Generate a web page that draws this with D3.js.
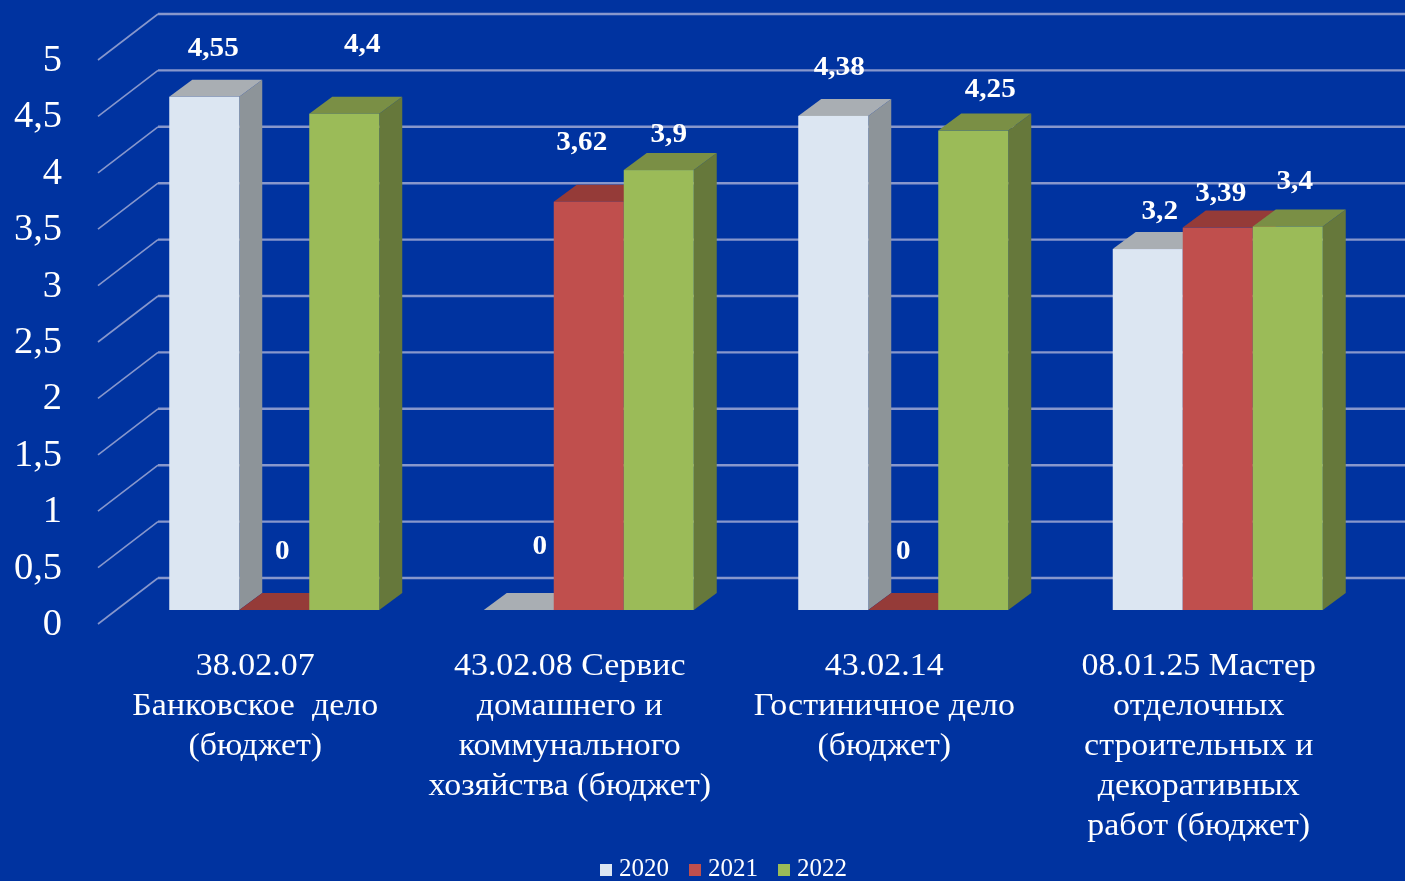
<!DOCTYPE html>
<html>
<head>
<meta charset="utf-8">
<script src="https://cdn.jsdelivr.net/npm/d3@7"></script>
<style>
html,body{margin:0;padding:0;background:#0033a0;overflow:hidden}
svg{display:block}
text{font-family:"Liberation Serif","Times New Roman",serif;fill:#fff}
</style>
</head>
<body>
<div id="chart"></div>
<script>
const categories = [
  ["38.02.07","Банковское  дело","(бюджет)"],
  ["43.02.08 Сервис","домашнего и","коммунального","хозяйства (бюджет)"],
  ["43.02.14","Гостиничное дело","(бюджет)"],
  ["08.01.25 Мастер","отделочных","строительных и","декоративных","работ (бюджет)"]
];
const seriesNames = ["2020","2021","2022"];
const values2020 = [4.55, 0, 4.38, 3.2];
const values2021 = [0, 3.62, 0, 3.39];
const values2022 = [4.4, 3.9, 4.25, 3.4];
const seriesValues = [values2020, values2021, values2022];
const valueLabels = [
  ["4,55","0","4,38","3,2"],
  ["0","3,62","0","3,39"],
  ["4,4","3,9","4,25","3,4"]
];
const yTicks = [0,0.5,1,1.5,2,2.5,3,3.5,4,4.5,5];

// layout and style
const W = 1405, H = 881;
const frontColors = ["#dce6f2","#c0504d","#9bbb59"];
const topColors   = ["#a9aeb3","#953a38","#7a8f45"];
const sideColors  = ["#8d9499","#7a2f2d","#66783a"];
const depthX = 23, depthY = 17;
const plotLeft = 98, plotRight = 1356, axisY0 = 624, backLeft = 158, backY0 = 578;
const unit = 112.8;
const labelNudge = [
  [[9,-50],[21,-65],[6,-50],[12,-39]],
  [[8,-60],[-7,-61],[0,-60],[3,-36]],
  [[18,-71],[10,-38],[17,-43],[7,-47]]
];

const svg = d3.select("#chart").append("svg").attr("width",W).attr("height",H);
svg.append("rect").attr("width",W).attr("height",H).attr("fill","#0033a0");
const defs = svg.append("defs");
defs.append("filter").attr("id","soft").attr("x","-5%").attr("y","-5%").attr("width","110%").attr("height","110%")
  .append("feGaussianBlur").attr("stdDeviation",0.6);
const root = svg.append("g").attr("filter","url(#soft)");

const x0 = d3.scaleBand().domain(d3.range(categories.length)).range([plotLeft,plotRight]);
const x1 = d3.scaleBand().domain(d3.range(seriesNames.length)).range([0,210]);
const barShift = 19;
const barOrigin = i => x0(i) + x0.bandwidth()/2 - 105 + barShift;
const yAxis  = d3.scaleLinear().domain([0,5]).range([axisY0, axisY0-5*unit]);
const yBack  = d3.scaleLinear().domain([0,5]).range([backY0, backY0-5*unit]);
const yFront = d3.scaleLinear().domain([0,5]).range([610, 610-5*unit]);

// stretched text helper: the reference's text is slightly wider than the font
const place = (sel,x,y,sx) => sel.attr("transform",`translate(${x},${y}) scale(${sx},1)`);

// gridlines
const grid = root.append("g");
grid.selectAll("path.g").data(yTicks).join("path").attr("class","g")
  .attr("fill","none").attr("stroke","#8797cc").attr("stroke-width",2.4)
  .attr("d",d=>`M${backLeft},${yBack(d)}H${W}`);
grid.selectAll("path.w").data(yTicks).join("path").attr("class","w")
  .attr("fill","none").attr("stroke","#8797cc").attr("stroke-width",1.6)
  .attr("d",d=>`M${plotLeft},${yAxis(d)}L${backLeft},${yBack(d)}`);

// tick labels
root.append("g").selectAll("text").data(yTicks).join("text")
  .each(function(d){ place(d3.select(this),62,yAxis(d)-2,1.04); })
  .attr("dy","0.35em")
  .attr("text-anchor","end").attr("font-size",37)
  .text(d=>String(d).replace(".",","));

// bars
const bars = root.append("g");
categories.forEach((c,i)=>{
  seriesNames.forEach((s,k)=>{
    const v = seriesValues[k][i];
    const x = barOrigin(i)+x1(k), w = x1.bandwidth();
    const yt = yFront(v), yb = yFront(0);
    const g = bars.append("g");
    if (v>0) g.append("path").attr("fill",sideColors[k])
      .attr("d",`M${x+w},${yt}l${depthX},${-depthY}V${yb-depthY}L${x+w},${yb}Z`);
    g.append("path").attr("fill",topColors[k])
      .attr("d",`M${x},${yt}l${depthX},${-depthY}h${w}l${-depthX},${depthY}Z`);
    if (v>0) g.append("rect").attr("x",x).attr("y",yt).attr("width",w).attr("height",yb-yt).attr("fill",frontColors[k]);
  });
});

// value labels
const lab = root.append("g");
categories.forEach((c,i)=>{
  seriesNames.forEach((s,k)=>{
    const v = seriesValues[k][i];
    lab.append("text")
      .call(place, barOrigin(i)+x1(k)+x1.bandwidth()/2+labelNudge[k][i][0], yFront(v)+labelNudge[k][i][1], 1.08)
      .attr("dy","0.35em")
      .attr("text-anchor","middle").attr("font-size",27).attr("font-weight","bold")
      .text(valueLabels[k][i]);
  });
});

// category labels
const cat = root.append("g");
categories.forEach((lines,i)=>{
  lines.forEach((line,j)=>{
    cat.append("text")
      .call(place, x0(i)+x0.bandwidth()/2, 664+j*40, 1.095)
      .attr("dy","0.35em")
      .attr("text-anchor","middle").attr("font-size",31).style("white-space","pre")
      .text(line);
  });
});

// legend
const legendX = [600,689,778];
const leg = root.append("g");
seriesNames.forEach((s,k)=>{
  leg.append("rect").attr("x",legendX[k]).attr("y",864).attr("width",12).attr("height",12).attr("fill",frontColors[k]);
  leg.append("text").attr("x",legendX[k]+19).attr("y",875.5).attr("font-size",25).text(s);
});
</script>
</body>
</html>
